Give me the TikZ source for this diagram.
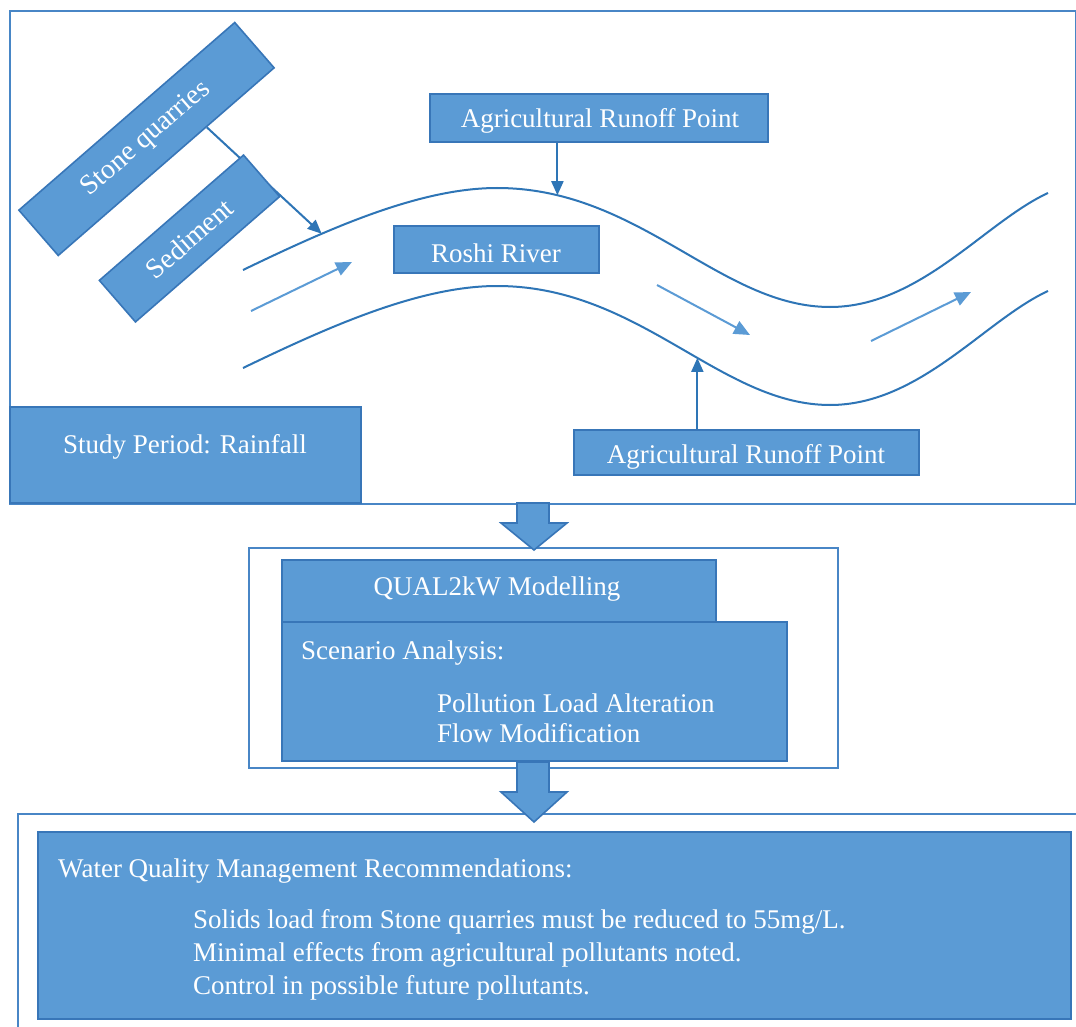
\documentclass[tikz,border=0pt]{standalone}
\usepackage{fontspec}
\setmainfont{Liberation Serif}
\usetikzlibrary{arrows.meta,calc}
\definecolor{boxfill}{RGB}{91,155,213}
\definecolor{boxline}{RGB}{56,118,184}
\definecolor{frameline}{RGB}{72,134,198}
\definecolor{bankc}{RGB}{46,117,182}
\definecolor{flowc}{RGB}{91,155,213}
\tikzset{
  box/.style={draw=boxline, fill=boxfill, line width=1.6pt, inner sep=0pt, anchor=north west},
  lbl/.style={text=white, font=\fontsize{27}{32}\selectfont, inner sep=0pt},
  rlbl/.style={text=white, font=\fontsize{28}{32}\selectfont},
  framebox/.style={draw=frameline, line width=1.8pt, inner sep=0pt, anchor=north west},
  bank/.style={draw=bankc, line width=2pt},
  flow/.style={draw=flowc, line width=2pt, -{Triangle[length=16pt,width=14pt]}},
  conn/.style={draw=bankc, line width=2pt, -{Triangle[length=14pt,width=12pt]}},
  barrow/.style={draw=boxline, fill=boxfill, line width=1.6pt, line join=miter},
}
\begin{document}
\begin{tikzpicture}[x=1pt,y=-1pt]
\useasboundingbox (0,0) rectangle (1076,1027);
\clip (0,0) rectangle (1076,1027);
\fill[white] (0,0) rectangle (1076,1027);

% frames
\node[framebox, minimum width=1066pt, minimum height=493pt] (frameA) at (9,10) {};
\node[framebox, minimum width=589pt, minimum height=220pt] (frameB) at (248,547) {};
\draw[draw=frameline, line width=1.8pt] (18,1040) -- (18,814) -- (1090,814);

% river banks
\draw[bank] (243,270) .. controls (330,228) and (420,188) .. (497,188)
  coordinate[pos=0.3] (bankA)
  .. controls (640,188) and (720,307) .. (830,307)
  coordinate[pos=0.15] (bankB)
  .. controls (920,307) and (985,222) .. (1048,193);
\begin{scope}[shift={(0,98)}]
\draw[bank] (243,270) .. controls (330,228) and (420,188) .. (497,188)
  .. controls (640,188) and (720,307) .. (830,307)
  coordinate[pos=0.57] (bankC)
  .. controls (920,307) and (985,222) .. (1048,193);
\end{scope}

% flow arrows
\coordinate (f1s) at (251,311); \coordinate (f1e) at (352,262);
\coordinate (f2s) at (657,285); \coordinate (f2e) at (750,335);
\coordinate (f3s) at (871,341); \coordinate (f3e) at (971,292);
\draw[flow] (f1s) -- (f1e);
\draw[flow] (f2s) -- (f2e);
\draw[flow] (f3s) -- (f3e);

% stone quarries box and its connector
\node[box, anchor=center, rotate=41, minimum width=286pt, minimum height=60pt, rlbl] (sq) at (146.5,139) {Stone quarries};
\draw[conn] ($(sq.south)!0.37!(sq.south east)$) -- (bankA);
\node[box, anchor=center, rotate=41, minimum width=191pt, minimum height=55pt, rlbl] (sed) at (189.5,238.5) {Sediment};

% boxes in the top frame
\node[box, minimum width=338pt, minimum height=48pt] (agriT) at (429,93) {};
\node[box, minimum width=205pt, minimum height=47pt] (roshi) at (393,225) {};
\node[box, minimum width=345pt, minimum height=45pt] (agriB) at (573,429) {};
\node[box, minimum width=351pt, minimum height=96pt] (study) at (9,406) {};
\draw[conn] (agriT.south -| bankB) -- (bankB);
\draw[conn] (agriB.north -| bankC) -- (bankC);

% middle boxes
\node[box, minimum width=434pt, minimum height=62pt] (qual) at (281,559) {};
\node[box, minimum width=505pt, minimum height=139pt] (scen) at (281,621) {};

% bottom box
\node[box, minimum width=1033pt, minimum height=187pt] (wqbox) at (37,831) {};

% block arrows
\draw[barrow] (517,503) -- (549,503) -- (549,523) -- (567,523) -- (534,550) -- (501,523) -- (517,523) -- cycle;
\draw[barrow] (517,762) -- (549,762) -- (549,792) -- (567,792) -- (534,822) -- (501,792) -- (517,792) -- cycle;

% texts
\node[lbl, anchor=base] (agriTt) at (600,128) {Agricultural Runoff Point};
\node[lbl, anchor=base] (roshiT) at (496,262) {Roshi River};
\node[lbl, anchor=base] (agriBt) at (746,463) {Agricultural Runoff Point};
\node[lbl, anchor=base west] (studyT) at (63,453) {Study Period: Rainfall};
\node[lbl, anchor=base] (qualT) at (497,595) {QUAL2kW Modelling};
\node[lbl, anchor=base west] (scenT) at (301,659) {Scenario Analysis:};
\node[lbl, anchor=base west] (scen1) at (437,712) {Pollution Load Alteration};
\node[lbl, anchor=base west] (scen2) at (437,742) {Flow Modification};
\node[lbl, anchor=base west] (wq) at (58,877) {Water Quality Management Recommendations:};
\node[lbl, anchor=base west] (wq1) at (193,928) {Solids load from Stone quarries must be reduced to 55mg/L.};
\node[lbl, anchor=base west] (wq2) at (193,961) {Minimal effects from agricultural pollutants noted.};
\node[lbl, anchor=base west] (wq3) at (193,994) {Control in possible future pollutants.};
\end{tikzpicture}
\end{document}
